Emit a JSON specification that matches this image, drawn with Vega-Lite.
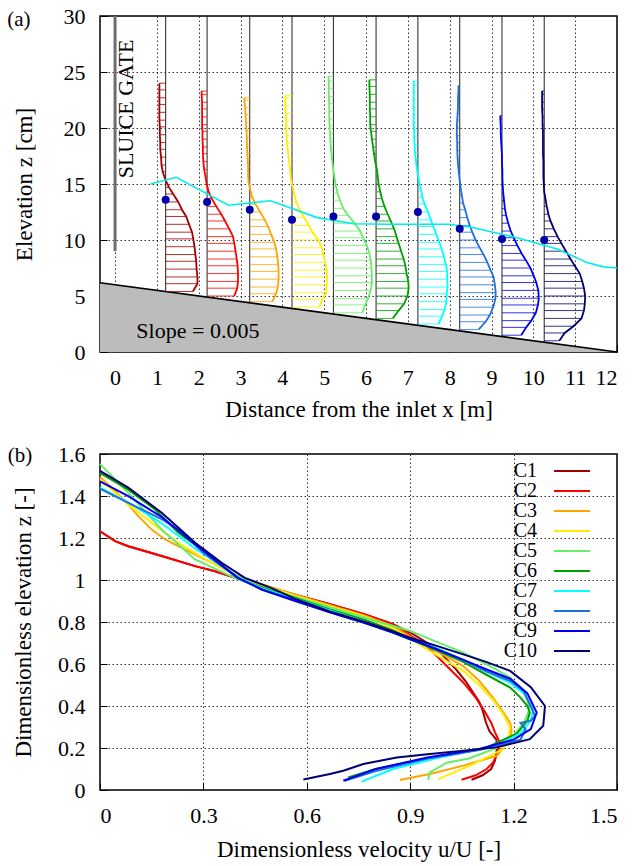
{
"$schema":"https://vega.github.io/schema/vega-lite/v6.json",
"padding":{"left":6,"top":4,"right":10,"bottom":5},
"config":{"font":"Liberation Serif","view":{"stroke":"black","strokeWidth":1.5},
"axis":{"labelFont":"Liberation Serif","titleFont":"Liberation Serif","labelFontSize":22,"titleFontSize":23,"titleFontWeight":"normal","labelColor":"black","titleColor":"black","domain":false,"grid":true,"gridColor":"#333","gridDash":[1.5,2.5],"gridWidth":1,"tickColor":"black","tickSize":-7,"tickWidth":1,"labelPadding":22,"titlePadding":10},
"text":{"font":"Liberation Serif"}},
"spacing":20,
"resolve":{"legend":{"color":"independent"}},
"datasets":{
"stations":[{"c":"C1","s":1.21,"zd":13.6},{"c":"C2","s":2.2,"zd":13.4},{"c":"C3","s":3.22,"zd":12.7},{"c":"C4","s":4.23,"zd":11.8},{"c":"C5","s":5.22,"zd":12.1},{"c":"C6","s":6.24,"zd":12.1},{"c":"C7","s":7.24,"zd":12.5},{"c":"C8","s":8.24,"zd":11.0},{"c":"C9","s":9.25,"zd":10.1},{"c":"C10","s":10.26,"zd":10.0}],
"bed":[{"x":-0.36,"z":6.18},{"x":12,"z":0}],
"gate":[{"x":0,"z1":9,"z2":30}],
"ws":[{"x":0.85,"z":15.0},{"x":1.46,"z":15.6},{"x":2.71,"z":13.1},{"x":3.71,"z":13.5},{"x":3.95,"z":13.2},{"x":4.83,"z":12.0},{"x":5.7,"z":11.45},{"x":6.5,"z":11.4},{"x":8.0,"z":11.4},{"x":8.57,"z":11.1},{"x":9.61,"z":10.2},{"x":10.57,"z":9.2},{"x":11.28,"z":8.0},{"x":11.68,"z":7.6},{"x":12.0,"z":7.5}],
"prof":[
{"c":"C1","s":1.21,"x":1.86,"z":5.4},{"c":"C1","s":1.21,"x":1.97,"z":6.1},{"c":"C1","s":1.21,"x":1.97,"z":6.7},{"c":"C1","s":1.21,"x":1.95,"z":7.4},{"c":"C1","s":1.21,"x":1.94,"z":8.1},{"c":"C1","s":1.21,"x":1.92,"z":8.7},{"c":"C1","s":1.21,"x":1.9,"z":9.4},{"c":"C1","s":1.21,"x":1.87,"z":10.1},{"c":"C1","s":1.21,"x":1.84,"z":10.7},{"c":"C1","s":1.21,"x":1.77,"z":11.4},{"c":"C1","s":1.21,"x":1.7,"z":12.1},{"c":"C1","s":1.21,"x":1.6,"z":12.7},{"c":"C1","s":1.21,"x":1.51,"z":13.4},{"c":"C1","s":1.21,"x":1.39,"z":14.1},{"c":"C1","s":1.21,"x":1.29,"z":14.7},{"c":"C1","s":1.21,"x":1.2,"z":15.4},{"c":"C1","s":1.21,"x":1.14,"z":16.1},{"c":"C1","s":1.21,"x":1.11,"z":16.7},{"c":"C1","s":1.21,"x":1.1,"z":17.4},{"c":"C1","s":1.21,"x":1.08,"z":18.1},{"c":"C1","s":1.21,"x":1.08,"z":18.7},{"c":"C1","s":1.21,"x":1.07,"z":19.4},{"c":"C1","s":1.21,"x":1.07,"z":20.1},{"c":"C1","s":1.21,"x":1.06,"z":20.7},{"c":"C1","s":1.21,"x":1.06,"z":21.4},{"c":"C1","s":1.21,"x":1.06,"z":22.1},{"c":"C1","s":1.21,"x":1.06,"z":22.7},{"c":"C1","s":1.21,"x":1.06,"z":23.4},{"c":"C1","s":1.21,"x":1.06,"z":24.0},
{"c":"C2","s":2.2,"x":2.85,"z":5.0},{"c":"C2","s":2.2,"x":2.92,"z":5.7},{"c":"C2","s":2.2,"x":2.94,"z":6.3},{"c":"C2","s":2.2,"x":2.94,"z":7.0},{"c":"C2","s":2.2,"x":2.93,"z":7.7},{"c":"C2","s":2.2,"x":2.91,"z":8.3},{"c":"C2","s":2.2,"x":2.88,"z":9.0},{"c":"C2","s":2.2,"x":2.85,"z":9.7},{"c":"C2","s":2.2,"x":2.82,"z":10.3},{"c":"C2","s":2.2,"x":2.73,"z":11.0},{"c":"C2","s":2.2,"x":2.63,"z":11.7},{"c":"C2","s":2.2,"x":2.54,"z":12.3},{"c":"C2","s":2.2,"x":2.42,"z":13.0},{"c":"C2","s":2.2,"x":2.31,"z":13.7},{"c":"C2","s":2.2,"x":2.24,"z":14.3},{"c":"C2","s":2.2,"x":2.19,"z":15.0},{"c":"C2","s":2.2,"x":2.16,"z":15.7},{"c":"C2","s":2.2,"x":2.13,"z":16.3},{"c":"C2","s":2.2,"x":2.11,"z":17.0},{"c":"C2","s":2.2,"x":2.1,"z":17.7},{"c":"C2","s":2.2,"x":2.1,"z":18.3},{"c":"C2","s":2.2,"x":2.09,"z":19.0},{"c":"C2","s":2.2,"x":2.09,"z":19.7},{"c":"C2","s":2.2,"x":2.08,"z":20.3},{"c":"C2","s":2.2,"x":2.08,"z":21.0},{"c":"C2","s":2.2,"x":2.08,"z":21.7},{"c":"C2","s":2.2,"x":2.08,"z":22.3},{"c":"C2","s":2.2,"x":2.07,"z":23.0},{"c":"C2","s":2.2,"x":2.07,"z":23.3},
{"c":"C3","s":3.22,"x":3.76,"z":4.5},{"c":"C3","s":3.22,"x":3.85,"z":5.2},{"c":"C3","s":3.22,"x":3.89,"z":5.8},{"c":"C3","s":3.22,"x":3.91,"z":6.5},{"c":"C3","s":3.22,"x":3.91,"z":7.2},{"c":"C3","s":3.22,"x":3.9,"z":7.8},{"c":"C3","s":3.22,"x":3.88,"z":8.5},{"c":"C3","s":3.22,"x":3.85,"z":9.2},{"c":"C3","s":3.22,"x":3.81,"z":9.8},{"c":"C3","s":3.22,"x":3.73,"z":10.5},{"c":"C3","s":3.22,"x":3.66,"z":11.2},{"c":"C3","s":3.22,"x":3.58,"z":11.8},{"c":"C3","s":3.22,"x":3.47,"z":12.5},{"c":"C3","s":3.22,"x":3.36,"z":13.2},{"c":"C3","s":3.22,"x":3.28,"z":13.8},{"c":"C3","s":3.22,"x":3.23,"z":14.5},{"c":"C3","s":3.22,"x":3.19,"z":15.2},{"c":"C3","s":3.22,"x":3.18,"z":15.8},{"c":"C3","s":3.22,"x":3.18,"z":16.5},{"c":"C3","s":3.22,"x":3.17,"z":17.2},{"c":"C3","s":3.22,"x":3.16,"z":17.8},{"c":"C3","s":3.22,"x":3.15,"z":18.5},{"c":"C3","s":3.22,"x":3.15,"z":19.2},{"c":"C3","s":3.22,"x":3.14,"z":19.8},{"c":"C3","s":3.22,"x":3.13,"z":20.5},{"c":"C3","s":3.22,"x":3.12,"z":21.2},{"c":"C3","s":3.22,"x":3.11,"z":21.8},{"c":"C3","s":3.22,"x":3.09,"z":22.5},{"c":"C3","s":3.22,"x":3.09,"z":22.7},
{"c":"C4","s":4.23,"x":4.88,"z":4.0},{"c":"C4","s":4.23,"x":4.96,"z":4.7},{"c":"C4","s":4.23,"x":5.05,"z":5.3},{"c":"C4","s":4.23,"x":5.06,"z":6.0},{"c":"C4","s":4.23,"x":5.07,"z":6.7},{"c":"C4","s":4.23,"x":5.06,"z":7.3},{"c":"C4","s":4.23,"x":5.02,"z":8.0},{"c":"C4","s":4.23,"x":4.98,"z":8.7},{"c":"C4","s":4.23,"x":4.94,"z":9.3},{"c":"C4","s":4.23,"x":4.86,"z":10.0},{"c":"C4","s":4.23,"x":4.72,"z":10.7},{"c":"C4","s":4.23,"x":4.63,"z":11.3},{"c":"C4","s":4.23,"x":4.52,"z":12.0},{"c":"C4","s":4.23,"x":4.42,"z":12.7},{"c":"C4","s":4.23,"x":4.34,"z":13.3},{"c":"C4","s":4.23,"x":4.29,"z":14.0},{"c":"C4","s":4.23,"x":4.25,"z":14.7},{"c":"C4","s":4.23,"x":4.21,"z":15.3},{"c":"C4","s":4.23,"x":4.19,"z":16.0},{"c":"C4","s":4.23,"x":4.17,"z":16.7},{"c":"C4","s":4.23,"x":4.15,"z":17.3},{"c":"C4","s":4.23,"x":4.13,"z":18.0},{"c":"C4","s":4.23,"x":4.11,"z":18.7},{"c":"C4","s":4.23,"x":4.1,"z":19.3},{"c":"C4","s":4.23,"x":4.09,"z":20.0},{"c":"C4","s":4.23,"x":4.09,"z":20.7},{"c":"C4","s":4.23,"x":4.08,"z":21.3},{"c":"C4","s":4.23,"x":4.07,"z":22.0},{"c":"C4","s":4.23,"x":4.07,"z":22.7},{"c":"C4","s":4.23,"x":4.07,"z":22.9},
{"c":"C5","s":5.22,"x":5.91,"z":3.5},{"c":"C5","s":5.22,"x":5.98,"z":4.2},{"c":"C5","s":5.22,"x":6.05,"z":4.8},{"c":"C5","s":5.22,"x":6.11,"z":5.5},{"c":"C5","s":5.22,"x":6.14,"z":6.2},{"c":"C5","s":5.22,"x":6.14,"z":6.8},{"c":"C5","s":5.22,"x":6.13,"z":7.5},{"c":"C5","s":5.22,"x":6.11,"z":8.2},{"c":"C5","s":5.22,"x":6.08,"z":8.8},{"c":"C5","s":5.22,"x":6.02,"z":9.5},{"c":"C5","s":5.22,"x":5.93,"z":10.2},{"c":"C5","s":5.22,"x":5.86,"z":10.8},{"c":"C5","s":5.22,"x":5.73,"z":11.5},{"c":"C5","s":5.22,"x":5.57,"z":12.2},{"c":"C5","s":5.22,"x":5.46,"z":12.8},{"c":"C5","s":5.22,"x":5.38,"z":13.5},{"c":"C5","s":5.22,"x":5.32,"z":14.2},{"c":"C5","s":5.22,"x":5.28,"z":14.8},{"c":"C5","s":5.22,"x":5.25,"z":15.5},{"c":"C5","s":5.22,"x":5.22,"z":16.2},{"c":"C5","s":5.22,"x":5.2,"z":16.8},{"c":"C5","s":5.22,"x":5.18,"z":17.5},{"c":"C5","s":5.22,"x":5.16,"z":18.2},{"c":"C5","s":5.22,"x":5.15,"z":18.8},{"c":"C5","s":5.22,"x":5.14,"z":19.5},{"c":"C5","s":5.22,"x":5.13,"z":20.2},{"c":"C5","s":5.22,"x":5.12,"z":20.8},{"c":"C5","s":5.22,"x":5.12,"z":21.5},{"c":"C5","s":5.22,"x":5.12,"z":22.2},{"c":"C5","s":5.22,"x":5.11,"z":22.8},{"c":"C5","s":5.22,"x":5.11,"z":23.5},{"c":"C5","s":5.22,"x":5.11,"z":24.2},{"c":"C5","s":5.22,"x":5.1,"z":24.6},
{"c":"C6","s":6.24,"x":6.64,"z":3.0},{"c":"C6","s":6.24,"x":6.78,"z":3.7},{"c":"C6","s":6.24,"x":6.91,"z":4.3},{"c":"C6","s":6.24,"x":6.99,"z":5.0},{"c":"C6","s":6.24,"x":7.02,"z":5.7},{"c":"C6","s":6.24,"x":7.01,"z":6.3},{"c":"C6","s":6.24,"x":6.97,"z":7.0},{"c":"C6","s":6.24,"x":6.94,"z":7.7},{"c":"C6","s":6.24,"x":6.9,"z":8.3},{"c":"C6","s":6.24,"x":6.84,"z":9.0},{"c":"C6","s":6.24,"x":6.78,"z":9.7},{"c":"C6","s":6.24,"x":6.73,"z":10.3},{"c":"C6","s":6.24,"x":6.67,"z":11.0},{"c":"C6","s":6.24,"x":6.59,"z":11.7},{"c":"C6","s":6.24,"x":6.52,"z":12.3},{"c":"C6","s":6.24,"x":6.44,"z":13.0},{"c":"C6","s":6.24,"x":6.38,"z":13.7},{"c":"C6","s":6.24,"x":6.34,"z":14.3},{"c":"C6","s":6.24,"x":6.3,"z":15.0},{"c":"C6","s":6.24,"x":6.28,"z":15.7},{"c":"C6","s":6.24,"x":6.26,"z":16.3},{"c":"C6","s":6.24,"x":6.22,"z":17.0},{"c":"C6","s":6.24,"x":6.19,"z":17.7},{"c":"C6","s":6.24,"x":6.17,"z":18.3},{"c":"C6","s":6.24,"x":6.14,"z":19.0},{"c":"C6","s":6.24,"x":6.12,"z":19.7},{"c":"C6","s":6.24,"x":6.1,"z":20.3},{"c":"C6","s":6.24,"x":6.1,"z":21.0},{"c":"C6","s":6.24,"x":6.09,"z":21.7},{"c":"C6","s":6.24,"x":6.09,"z":22.3},{"c":"C6","s":6.24,"x":6.09,"z":23.0},{"c":"C6","s":6.24,"x":6.08,"z":23.7},{"c":"C6","s":6.24,"x":6.08,"z":24.3},
{"c":"C7","s":7.24,"x":7.73,"z":2.5},{"c":"C7","s":7.24,"x":7.82,"z":3.2},{"c":"C7","s":7.24,"x":7.88,"z":3.8},{"c":"C7","s":7.24,"x":7.92,"z":4.5},{"c":"C7","s":7.24,"x":7.93,"z":5.2},{"c":"C7","s":7.24,"x":7.95,"z":5.8},{"c":"C7","s":7.24,"x":7.94,"z":6.5},{"c":"C7","s":7.24,"x":7.94,"z":7.2},{"c":"C7","s":7.24,"x":7.91,"z":7.8},{"c":"C7","s":7.24,"x":7.86,"z":8.5},{"c":"C7","s":7.24,"x":7.81,"z":9.2},{"c":"C7","s":7.24,"x":7.75,"z":9.8},{"c":"C7","s":7.24,"x":7.68,"z":10.5},{"c":"C7","s":7.24,"x":7.61,"z":11.2},{"c":"C7","s":7.24,"x":7.55,"z":11.8},{"c":"C7","s":7.24,"x":7.48,"z":12.5},{"c":"C7","s":7.24,"x":7.4,"z":13.2},{"c":"C7","s":7.24,"x":7.35,"z":13.8},{"c":"C7","s":7.24,"x":7.31,"z":14.5},{"c":"C7","s":7.24,"x":7.27,"z":15.2},{"c":"C7","s":7.24,"x":7.24,"z":15.8},{"c":"C7","s":7.24,"x":7.21,"z":16.5},{"c":"C7","s":7.24,"x":7.19,"z":17.2},{"c":"C7","s":7.24,"x":7.17,"z":17.8},{"c":"C7","s":7.24,"x":7.16,"z":18.5},{"c":"C7","s":7.24,"x":7.15,"z":19.2},{"c":"C7","s":7.24,"x":7.15,"z":19.8},{"c":"C7","s":7.24,"x":7.14,"z":20.5},{"c":"C7","s":7.24,"x":7.14,"z":21.2},{"c":"C7","s":7.24,"x":7.14,"z":21.8},{"c":"C7","s":7.24,"x":7.14,"z":22.5},{"c":"C7","s":7.24,"x":7.14,"z":23.2},{"c":"C7","s":7.24,"x":7.14,"z":23.8},{"c":"C7","s":7.24,"x":7.14,"z":24.2},
{"c":"C8","s":8.24,"x":8.69,"z":2.0},{"c":"C8","s":8.24,"x":8.86,"z":2.7},{"c":"C8","s":8.24,"x":8.96,"z":3.3},{"c":"C8","s":8.24,"x":9.04,"z":4.0},{"c":"C8","s":8.24,"x":9.09,"z":4.7},{"c":"C8","s":8.24,"x":9.1,"z":5.3},{"c":"C8","s":8.24,"x":9.08,"z":6.0},{"c":"C8","s":8.24,"x":9.05,"z":6.7},{"c":"C8","s":8.24,"x":8.98,"z":7.3},{"c":"C8","s":8.24,"x":8.9,"z":8.0},{"c":"C8","s":8.24,"x":8.81,"z":8.7},{"c":"C8","s":8.24,"x":8.72,"z":9.3},{"c":"C8","s":8.24,"x":8.62,"z":10.0},{"c":"C8","s":8.24,"x":8.54,"z":10.7},{"c":"C8","s":8.24,"x":8.48,"z":11.3},{"c":"C8","s":8.24,"x":8.42,"z":12.0},{"c":"C8","s":8.24,"x":8.37,"z":12.7},{"c":"C8","s":8.24,"x":8.32,"z":13.3},{"c":"C8","s":8.24,"x":8.29,"z":14.0},{"c":"C8","s":8.24,"x":8.26,"z":14.7},{"c":"C8","s":8.24,"x":8.24,"z":15.3},{"c":"C8","s":8.24,"x":8.22,"z":16.0},{"c":"C8","s":8.24,"x":8.2,"z":16.7},{"c":"C8","s":8.24,"x":8.19,"z":17.3},{"c":"C8","s":8.24,"x":8.18,"z":18.0},{"c":"C8","s":8.24,"x":8.18,"z":18.7},{"c":"C8","s":8.24,"x":8.17,"z":19.3},{"c":"C8","s":8.24,"x":8.17,"z":20.0},{"c":"C8","s":8.24,"x":8.18,"z":20.7},{"c":"C8","s":8.24,"x":8.19,"z":21.3},{"c":"C8","s":8.24,"x":8.2,"z":22.0},{"c":"C8","s":8.24,"x":8.2,"z":22.7},{"c":"C8","s":8.24,"x":8.21,"z":23.3},{"c":"C8","s":8.24,"x":8.21,"z":23.8},
{"c":"C9","s":9.25,"x":9.71,"z":1.5},{"c":"C9","s":9.25,"x":9.83,"z":2.2},{"c":"C9","s":9.25,"x":9.95,"z":2.8},{"c":"C9","s":9.25,"x":10.06,"z":3.5},{"c":"C9","s":9.25,"x":10.11,"z":4.2},{"c":"C9","s":9.25,"x":10.13,"z":4.8},{"c":"C9","s":9.25,"x":10.12,"z":5.5},{"c":"C9","s":9.25,"x":10.07,"z":6.2},{"c":"C9","s":9.25,"x":10.01,"z":6.8},{"c":"C9","s":9.25,"x":9.93,"z":7.5},{"c":"C9","s":9.25,"x":9.82,"z":8.2},{"c":"C9","s":9.25,"x":9.72,"z":8.8},{"c":"C9","s":9.25,"x":9.62,"z":9.5},{"c":"C9","s":9.25,"x":9.53,"z":10.2},{"c":"C9","s":9.25,"x":9.46,"z":10.8},{"c":"C9","s":9.25,"x":9.4,"z":11.5},{"c":"C9","s":9.25,"x":9.35,"z":12.2},{"c":"C9","s":9.25,"x":9.32,"z":12.8},{"c":"C9","s":9.25,"x":9.3,"z":13.5},{"c":"C9","s":9.25,"x":9.28,"z":14.2},{"c":"C9","s":9.25,"x":9.27,"z":14.8},{"c":"C9","s":9.25,"x":9.26,"z":15.5},{"c":"C9","s":9.25,"x":9.26,"z":16.2},{"c":"C9","s":9.25,"x":9.25,"z":16.8},{"c":"C9","s":9.25,"x":9.25,"z":17.5},{"c":"C9","s":9.25,"x":9.24,"z":18.2},{"c":"C9","s":9.25,"x":9.23,"z":18.8},{"c":"C9","s":9.25,"x":9.22,"z":19.5},{"c":"C9","s":9.25,"x":9.22,"z":20.2},{"c":"C9","s":9.25,"x":9.21,"z":20.8},{"c":"C9","s":9.25,"x":9.21,"z":21.1},
{"c":"C10","s":10.26,"x":10.62,"z":1.0},{"c":"C10","s":10.26,"x":10.75,"z":1.7},{"c":"C10","s":10.26,"x":10.96,"z":2.3},{"c":"C10","s":10.26,"x":11.15,"z":3.0},{"c":"C10","s":10.26,"x":11.21,"z":3.7},{"c":"C10","s":10.26,"x":11.23,"z":4.3},{"c":"C10","s":10.26,"x":11.24,"z":5.0},{"c":"C10","s":10.26,"x":11.21,"z":5.7},{"c":"C10","s":10.26,"x":11.17,"z":6.3},{"c":"C10","s":10.26,"x":11.11,"z":7.0},{"c":"C10","s":10.26,"x":10.99,"z":7.7},{"c":"C10","s":10.26,"x":10.89,"z":8.3},{"c":"C10","s":10.26,"x":10.78,"z":9.0},{"c":"C10","s":10.26,"x":10.67,"z":9.7},{"c":"C10","s":10.26,"x":10.58,"z":10.3},{"c":"C10","s":10.26,"x":10.49,"z":11.0},{"c":"C10","s":10.26,"x":10.41,"z":11.7},{"c":"C10","s":10.26,"x":10.36,"z":12.3},{"c":"C10","s":10.26,"x":10.32,"z":13.0},{"c":"C10","s":10.26,"x":10.29,"z":13.7},{"c":"C10","s":10.26,"x":10.26,"z":14.3},{"c":"C10","s":10.26,"x":10.25,"z":15.0},{"c":"C10","s":10.26,"x":10.24,"z":15.7},{"c":"C10","s":10.26,"x":10.24,"z":16.3},{"c":"C10","s":10.26,"x":10.24,"z":17.0},{"c":"C10","s":10.26,"x":10.23,"z":17.7},{"c":"C10","s":10.26,"x":10.23,"z":18.3},{"c":"C10","s":10.26,"x":10.23,"z":19.0},{"c":"C10","s":10.26,"x":10.23,"z":19.7},{"c":"C10","s":10.26,"x":10.22,"z":20.3},{"c":"C10","s":10.26,"x":10.22,"z":21.0},{"c":"C10","s":10.26,"x":10.21,"z":21.7},{"c":"C10","s":10.26,"x":10.21,"z":22.3},{"c":"C10","s":10.26,"x":10.21,"z":23.0},{"c":"C10","s":10.26,"x":10.21,"z":23.3}
],
"dim":[
{"c":"C1","u":0,"z":1.232},{"c":"C1","u":0.044,"z":1.185},{"c":"C1","u":0.082,"z":1.161},{"c":"C1","u":0.179,"z":1.114},{"c":"C1","u":0.276,"z":1.066},{"c":"C1","u":0.334,"z":1.042},{"c":"C1","u":0.392,"z":1.011},{"c":"C1","u":0.469,"z":0.975},{"c":"C1","u":0.566,"z":0.93},{"c":"C1","u":0.667,"z":0.885},{"c":"C1","u":0.769,"z":0.836},{"c":"C1","u":0.85,"z":0.79},{"c":"C1","u":0.9,"z":0.75},{"c":"C1","u":0.95,"z":0.7},{"c":"C1","u":0.99,"z":0.65},{"c":"C1","u":1.03,"z":0.58},{"c":"C1","u":1.06,"z":0.52},{"c":"C1","u":1.08,"z":0.47},{"c":"C1","u":1.1,"z":0.42},{"c":"C1","u":1.11,"z":0.38},{"c":"C1","u":1.12,"z":0.32},{"c":"C1","u":1.13,"z":0.28},{"c":"C1","u":1.15,"z":0.24},{"c":"C1","u":1.152,"z":0.2},{"c":"C1","u":1.146,"z":0.14},{"c":"C1","u":1.135,"z":0.1},{"c":"C1","u":1.11,"z":0.07},{"c":"C1","u":1.078,"z":0.049},
{"c":"C2","u":0,"z":1.232},{"c":"C2","u":0.044,"z":1.185},{"c":"C2","u":0.082,"z":1.161},{"c":"C2","u":0.179,"z":1.114},{"c":"C2","u":0.276,"z":1.066},{"c":"C2","u":0.334,"z":1.042},{"c":"C2","u":0.392,"z":1.011},{"c":"C2","u":0.469,"z":0.975},{"c":"C2","u":0.566,"z":0.93},{"c":"C2","u":0.667,"z":0.885},{"c":"C2","u":0.769,"z":0.836},{"c":"C2","u":0.85,"z":0.79},{"c":"C2","u":0.948,"z":0.686},{"c":"C2","u":1.0,"z":0.6},{"c":"C2","u":1.054,"z":0.512},{"c":"C2","u":1.09,"z":0.44},{"c":"C2","u":1.112,"z":0.385},{"c":"C2","u":1.135,"z":0.32},{"c":"C2","u":1.146,"z":0.274},{"c":"C2","u":1.16,"z":0.227},{"c":"C2","u":1.155,"z":0.18},{"c":"C2","u":1.14,"z":0.13},{"c":"C2","u":1.122,"z":0.1},{"c":"C2","u":1.09,"z":0.07},{"c":"C2","u":1.049,"z":0.049},
{"c":"C3","u":0,"z":1.49},{"c":"C3","u":0.04,"z":1.43},{"c":"C3","u":0.082,"z":1.359},{"c":"C3","u":0.111,"z":1.304},{"c":"C3","u":0.15,"z":1.24},{"c":"C3","u":0.189,"z":1.193},{"c":"C3","u":0.237,"z":1.153},{"c":"C3","u":0.305,"z":1.098},{"c":"C3","u":0.4,"z":1.02},{"c":"C3","u":0.469,"z":0.98},{"c":"C3","u":0.566,"z":0.93},{"c":"C3","u":0.667,"z":0.88},{"c":"C3","u":0.769,"z":0.83},{"c":"C3","u":0.85,"z":0.78},{"c":"C3","u":0.93,"z":0.7},{"c":"C3","u":1.0,"z":0.64},{"c":"C3","u":1.054,"z":0.59},{"c":"C3","u":1.1,"z":0.52},{"c":"C3","u":1.14,"z":0.44},{"c":"C3","u":1.17,"z":0.37},{"c":"C3","u":1.19,"z":0.32},{"c":"C3","u":1.194,"z":0.29},{"c":"C3","u":1.19,"z":0.24},{"c":"C3","u":1.151,"z":0.163},{"c":"C3","u":1.054,"z":0.116},{"c":"C3","u":0.957,"z":0.076},{"c":"C3","u":0.87,"z":0.048},
{"c":"C4","u":0,"z":1.48},{"c":"C4","u":0.082,"z":1.36},{"c":"C4","u":0.15,"z":1.272},{"c":"C4","u":0.227,"z":1.177},{"c":"C4","u":0.305,"z":1.1},{"c":"C4","u":0.4,"z":1.015},{"c":"C4","u":0.469,"z":0.975},{"c":"C4","u":0.566,"z":0.925},{"c":"C4","u":0.667,"z":0.875},{"c":"C4","u":0.769,"z":0.825},{"c":"C4","u":0.85,"z":0.77},{"c":"C4","u":0.93,"z":0.69},{"c":"C4","u":1.0,"z":0.62},{"c":"C4","u":1.054,"z":0.567},{"c":"C4","u":1.1,"z":0.5},{"c":"C4","u":1.14,"z":0.43},{"c":"C4","u":1.17,"z":0.36},{"c":"C4","u":1.189,"z":0.3},{"c":"C4","u":1.185,"z":0.24},{"c":"C4","u":1.17,"z":0.195},{"c":"C4","u":1.073,"z":0.116},{"c":"C4","u":0.981,"z":0.052},
{"c":"C5","u":0,"z":1.553},{"c":"C5","u":0.082,"z":1.415},{"c":"C5","u":0.179,"z":1.24},{"c":"C5","u":0.276,"z":1.098},{"c":"C5","u":0.4,"z":1.003},{"c":"C5","u":0.469,"z":0.965},{"c":"C5","u":0.566,"z":0.92},{"c":"C5","u":0.667,"z":0.87},{"c":"C5","u":0.769,"z":0.82},{"c":"C5","u":0.9,"z":0.757},{"c":"C5","u":0.97,"z":0.71},{"c":"C5","u":1.054,"z":0.654},{"c":"C5","u":1.12,"z":0.6},{"c":"C5","u":1.19,"z":0.536},{"c":"C5","u":1.22,"z":0.49},{"c":"C5","u":1.24,"z":0.43},{"c":"C5","u":1.245,"z":0.38},{"c":"C5","u":1.23,"z":0.32},{"c":"C5","u":1.2,"z":0.26},{"c":"C5","u":1.15,"z":0.2},{"c":"C5","u":1.07,"z":0.15},{"c":"C5","u":1.006,"z":0.13},{"c":"C5","u":0.957,"z":0.084},{"c":"C5","u":0.952,"z":0.048},
{"c":"C6","u":0,"z":1.51},{"c":"C6","u":0.082,"z":1.43},{"c":"C6","u":0.16,"z":1.336},{"c":"C6","u":0.227,"z":1.225},{"c":"C6","u":0.295,"z":1.145},{"c":"C6","u":0.4,"z":1.01},{"c":"C6","u":0.469,"z":0.965},{"c":"C6","u":0.566,"z":0.915},{"c":"C6","u":0.667,"z":0.86},{"c":"C6","u":0.769,"z":0.81},{"c":"C6","u":0.85,"z":0.76},{"c":"C6","u":0.9,"z":0.72},{"c":"C6","u":0.97,"z":0.67},{"c":"C6","u":1.054,"z":0.61},{"c":"C6","u":1.12,"z":0.55},{"c":"C6","u":1.19,"z":0.488},{"c":"C6","u":1.22,"z":0.44},{"c":"C6","u":1.24,"z":0.4},{"c":"C6","u":1.247,"z":0.369},{"c":"C6","u":1.24,"z":0.33},{"c":"C6","u":1.21,"z":0.27},{"c":"C6","u":1.12,"z":0.2},{"c":"C6","u":0.95,"z":0.15},{"c":"C6","u":0.8,"z":0.1},{"c":"C6","u":0.72,"z":0.06},
{"c":"C7","u":0,"z":1.44},{"c":"C7","u":0.082,"z":1.37},{"c":"C7","u":0.179,"z":1.27},{"c":"C7","u":0.276,"z":1.15},{"c":"C7","u":0.4,"z":1.015},{"c":"C7","u":0.469,"z":0.96},{"c":"C7","u":0.566,"z":0.91},{"c":"C7","u":0.667,"z":0.855},{"c":"C7","u":0.769,"z":0.8},{"c":"C7","u":0.85,"z":0.75},{"c":"C7","u":0.9,"z":0.718},{"c":"C7","u":0.97,"z":0.68},{"c":"C7","u":1.054,"z":0.62},{"c":"C7","u":1.12,"z":0.565},{"c":"C7","u":1.19,"z":0.51},{"c":"C7","u":1.23,"z":0.46},{"c":"C7","u":1.257,"z":0.385},{"c":"C7","u":1.25,"z":0.33},{"c":"C7","u":1.22,"z":0.27},{"c":"C7","u":1.15,"z":0.21},{"c":"C7","u":1.0,"z":0.16},{"c":"C7","u":0.85,"z":0.1},{"c":"C7","u":0.759,"z":0.04},
{"c":"C8","u":0,"z":1.435},{"c":"C8","u":0.082,"z":1.367},{"c":"C8","u":0.179,"z":1.29},{"c":"C8","u":0.227,"z":1.24},{"c":"C8","u":0.3,"z":1.13},{"c":"C8","u":0.4,"z":1.01},{"c":"C8","u":0.469,"z":0.955},{"c":"C8","u":0.566,"z":0.905},{"c":"C8","u":0.667,"z":0.846},{"c":"C8","u":0.769,"z":0.795},{"c":"C8","u":0.85,"z":0.75},{"c":"C8","u":0.9,"z":0.718},{"c":"C8","u":0.97,"z":0.675},{"c":"C8","u":1.054,"z":0.62},{"c":"C8","u":1.12,"z":0.565},{"c":"C8","u":1.19,"z":0.52},{"c":"C8","u":1.23,"z":0.47},{"c":"C8","u":1.262,"z":0.353},{"c":"C8","u":1.25,"z":0.33},{"c":"C8","u":1.22,"z":0.32},{"c":"C8","u":1.235,"z":0.29},{"c":"C8","u":1.22,"z":0.24},{"c":"C8","u":1.1,"z":0.19},{"c":"C8","u":0.95,"z":0.15},{"c":"C8","u":0.8,"z":0.09},{"c":"C8","u":0.71,"z":0.044},
{"c":"C9","u":0,"z":1.47},{"c":"C9","u":0.082,"z":1.399},{"c":"C9","u":0.179,"z":1.3},{"c":"C9","u":0.276,"z":1.17},{"c":"C9","u":0.4,"z":1.01},{"c":"C9","u":0.469,"z":0.955},{"c":"C9","u":0.566,"z":0.9},{"c":"C9","u":0.667,"z":0.846},{"c":"C9","u":0.769,"z":0.795},{"c":"C9","u":0.85,"z":0.75},{"c":"C9","u":0.9,"z":0.718},{"c":"C9","u":0.97,"z":0.675},{"c":"C9","u":1.054,"z":0.62},{"c":"C9","u":1.12,"z":0.575},{"c":"C9","u":1.19,"z":0.53},{"c":"C9","u":1.24,"z":0.46},{"c":"C9","u":1.267,"z":0.369},{"c":"C9","u":1.25,"z":0.29},{"c":"C9","u":1.2,"z":0.24},{"c":"C9","u":1.1,"z":0.195},{"c":"C9","u":0.95,"z":0.155},{"c":"C9","u":0.8,"z":0.1},{"c":"C9","u":0.706,"z":0.044},
{"c":"C10","u":0,"z":1.52},{"c":"C10","u":0.082,"z":1.44},{"c":"C10","u":0.179,"z":1.32},{"c":"C10","u":0.276,"z":1.177},{"c":"C10","u":0.353,"z":1.082},{"c":"C10","u":0.42,"z":1.01},{"c":"C10","u":0.5,"z":0.96},{"c":"C10","u":0.566,"z":0.91},{"c":"C10","u":0.667,"z":0.85},{"c":"C10","u":0.769,"z":0.8},{"c":"C10","u":0.85,"z":0.755},{"c":"C10","u":0.9,"z":0.725},{"c":"C10","u":0.97,"z":0.69},{"c":"C10","u":1.054,"z":0.646},{"c":"C10","u":1.12,"z":0.61},{"c":"C10","u":1.19,"z":0.567},{"c":"C10","u":1.25,"z":0.49},{"c":"C10","u":1.291,"z":0.4},{"c":"C10","u":1.286,"z":0.306},{"c":"C10","u":1.247,"z":0.242},{"c":"C10","u":1.151,"z":0.203},{"c":"C10","u":0.957,"z":0.171},{"c":"C10","u":0.861,"z":0.155},{"c":"C10","u":0.764,"z":0.124},{"c":"C10","u":0.706,"z":0.092},{"c":"C10","u":0.667,"z":0.076},{"c":"C10","u":0.59,"z":0.05}
]},
"vconcat":[
{"width":517,"height":336,
"layer":[
{"data":{"name":"stations"},"mark":{"type":"rule","color":"#222","strokeWidth":1},
 "encoding":{"x":{"field":"s","type":"quantitative","title":"Distance from the inlet x [m]","scale":{"domain":[-0.36,12],"nice":false,"zero":false},"axis":{"values":[0,1,2,3,4,5,6,7,8,9,10,11,12]}},
 "y":{"datum":0,"type":"quantitative","title":"Elevation z [cm]","scale":{"domain":[0,30],"nice":false},"axis":{"values":[0,5,10,15,20,25,30],"titlePadding":27}},"y2":{"datum":30}}},
{"data":{"name":"bed"},"mark":{"type":"area","color":"#bcbcbc","opacity":1},
 "encoding":{"x":{"field":"x","type":"quantitative","title":"Distance from the inlet x [m]"},"y":{"field":"z","type":"quantitative","title":"Elevation z [cm]"},"y2":{"datum":0}}},
{"data":{"name":"bed"},"mark":{"type":"line","color":"black","strokeWidth":1.6},
 "encoding":{"x":{"field":"x","type":"quantitative","title":"Distance from the inlet x [m]"},"y":{"field":"z","type":"quantitative","title":"Elevation z [cm]"}}},
{"data":{"name":"gate"},"mark":{"type":"rule","color":"#6e6e6e","strokeWidth":3},
 "encoding":{"x":{"field":"x","type":"quantitative","title":"Distance from the inlet x [m]"},"y":{"field":"z1","type":"quantitative","title":"Elevation z [cm]"},"y2":{"field":"z2"}}},
{"data":{"name":"prof"},"mark":{"type":"rule","strokeWidth":1,"opacity":0.8},
 "encoding":{"x":{"field":"s","type":"quantitative","title":"Distance from the inlet x [m]"},"x2":{"field":"x"},"y":{"field":"z","type":"quantitative","title":"Elevation z [cm]"},
 "color":{"field":"c","type":"nominal","legend":null,"scale":{"domain":["C1","C2","C3","C4","C5","C6","C7","C8","C9","C10"],"range":["#a00000","#ff0000","#ffa500","#ffee00","#66ee66","#00a000","#00ffff","#1e6fe0","#0000ee","#000070"]}}}},
{"data":{"name":"prof"},"mark":{"type":"line","strokeWidth":1.8},
 "encoding":{"x":{"field":"x","type":"quantitative","title":"Distance from the inlet x [m]"},"y":{"field":"z","type":"quantitative","title":"Elevation z [cm]"},"order":{"field":"z","type":"quantitative"},
 "color":{"field":"c","type":"nominal","legend":null,"scale":{"domain":["C1","C2","C3","C4","C5","C6","C7","C8","C9","C10"],"range":["#a00000","#ff0000","#ffa500","#ffee00","#66ee66","#00a000","#00ffff","#1e6fe0","#0000ee","#000070"]}}}},
{"data":{"name":"ws"},"mark":{"type":"line","color":"#00eeee","strokeWidth":1.6},
 "encoding":{"x":{"field":"x","type":"quantitative","title":"Distance from the inlet x [m]"},"y":{"field":"z","type":"quantitative","title":"Elevation z [cm]"}}},
{"data":{"name":"stations"},"mark":{"type":"point","filled":true,"color":"#0000a8","size":64,"opacity":1},
 "encoding":{"x":{"field":"s","type":"quantitative","title":"Distance from the inlet x [m]"},"y":{"field":"zd","type":"quantitative","title":"Elevation z [cm]"}}},
{"data":{"values":[{}]},"mark":{"type":"text","text":"SLUICE GATE","angle":270,"fontSize":22,"align":"center","baseline":"middle","color":"black"},
 "encoding":{"x":{"datum":0.27,"type":"quantitative","title":"Distance from the inlet x [m]"},"y":{"datum":21.7,"type":"quantitative","title":"Elevation z [cm]"}}},
{"data":{"values":[{}]},"mark":{"type":"text","text":"Slope = 0.005","fontSize":22,"align":"center","baseline":"middle","color":"black"},
 "encoding":{"x":{"datum":1.98,"type":"quantitative","title":"Distance from the inlet x [m]"},"y":{"datum":1.9,"type":"quantitative","title":"Elevation z [cm]"}}},
{"data":{"values":[{}]},"mark":{"type":"text","text":"(a)","fontSize":21,"align":"center","baseline":"middle","color":"black"},
 "encoding":{"x":{"datum":-2.3,"type":"quantitative","title":"Distance from the inlet x [m]"},"y":{"datum":29.6,"type":"quantitative","title":"Elevation z [cm]"}}}
]},
{"width":517,"height":336,
"layer":[
{"data":{"name":"dim"},"mark":{"type":"line","strokeWidth":2},
 "encoding":{"x":{"field":"u","type":"quantitative","title":"Dimensionless velocity u/U [-]","scale":{"domain":[0,1.5],"nice":false},"axis":{"values":[0,0.3,0.6,0.9,1.2,1.5],"format":"~g","titlePadding":12}},
 "y":{"field":"z","type":"quantitative","title":"Dimensionless elevation z [-]","scale":{"domain":[0,1.6],"nice":false},"axis":{"values":[0,0.2,0.4,0.6,0.8,1,1.2,1.4,1.6],"format":"~g","titlePadding":22}},
 "order":{"field":"z","type":"quantitative"},
 "color":{"field":"c","type":"nominal","scale":{"domain":["C1","C2","C3","C4","C5","C6","C7","C8","C9","C10"],"range":["#a00000","#ff0000","#ffa500","#ffee00","#66ee66","#00a000","#00ffff","#1e6fe0","#0000ee","#000070"]},
 "legend":{"orient":"none","legendX":462,"legendY":7,"title":null,"symbolType":"M-3,0H3","symbolSize":144,"symbolStrokeWidth":2,"labelAlign":"right","labelOffset":-45,"labelFontSize":20,"labelFont":"Liberation Serif","labelColor":"black","rowPadding":0,"padding":0}}}},
{"data":{"values":[{}]},"mark":{"type":"text","text":"(b)","fontSize":21,"align":"center","baseline":"middle","color":"black"},
 "encoding":{"x":{"datum":-0.232,"type":"quantitative","title":"Dimensionless velocity u/U [-]"},"y":{"datum":1.59,"type":"quantitative","title":"Dimensionless elevation z [-]"}}}
]}
]}
